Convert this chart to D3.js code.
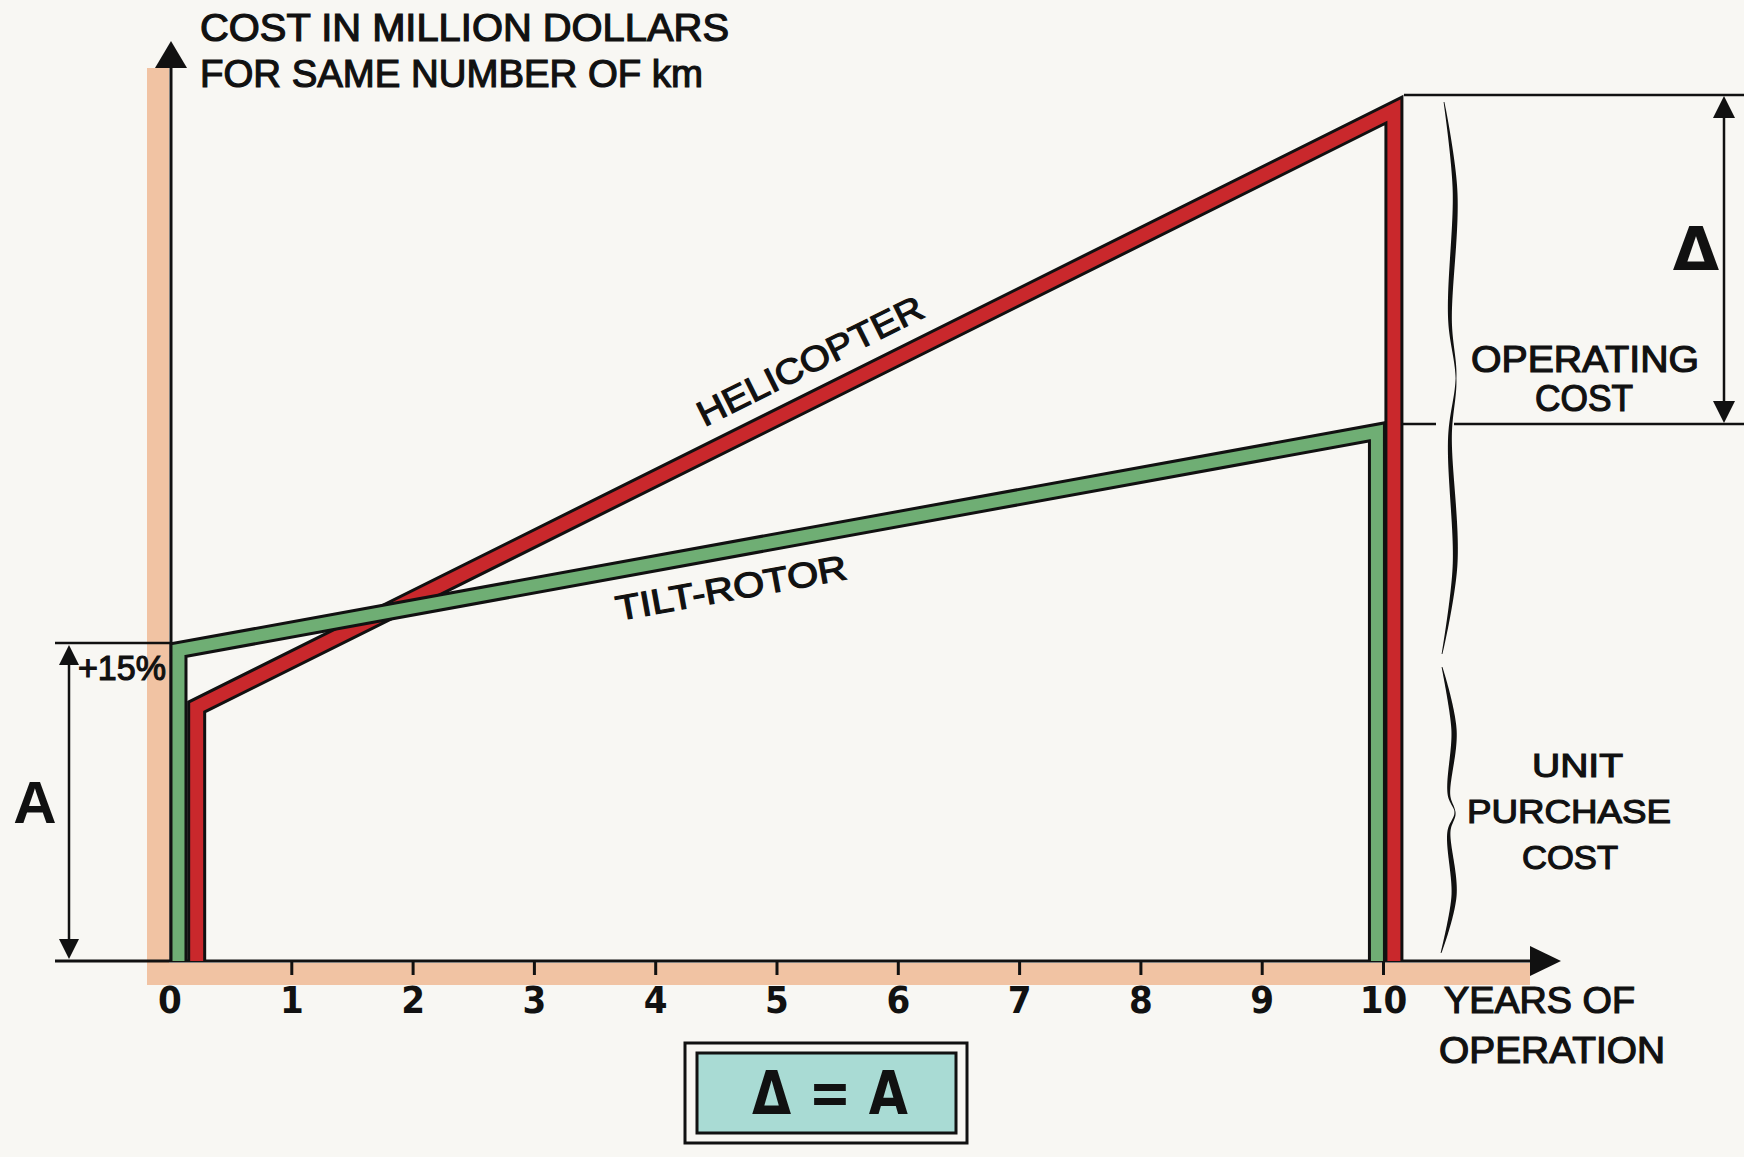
<!DOCTYPE html>
<html><head><meta charset="utf-8">
<script src="https://cdn.jsdelivr.net/npm/d3@7"></script>
<style>html,body{margin:0;padding:0;background:#f8f7f3;} svg{display:block}</style>
</head><body>
<svg id="chart" width="1744" height="1157"></svg>
<script>
// ---------- data ----------
const years = [0,1,2,3,4,5,6,7,8,9,10];
const tickLabels = ["0","1","2","3","4","5","6","7","8","9","10"];
// cost relative to helicopter unit purchase cost (= 1)
const heliYears = [0.22, 0.22, 10.09, 10.09];
const heliCost  = [0, 1.0, 3.35, 0];
const tiltYears = [0.07, 0.07, 9.95, 9.95];
const tiltCost  = [0, 1.224, 2.083, 0];
const yTitle = ["COST IN MILLION DOLLARS", "FOR SAME NUMBER OF km"];
const xTitle = ["YEARS OF", "OPERATION"];
const opLabel = ["OPERATING", "COST"];
const upLabel = ["UNIT", "PURCHASE", "COST"];
const seriesNames = ["HELICOPTER", "TILT-ROTOR"];

// ---------- setup ----------
const svg = d3.select("#chart");
const W = 1744, H = 1157;
svg.append("rect").attr("width", W).attr("height", H).attr("fill", "#f8f7f3");
const x = d3.scaleLinear().domain([0, 10]).range([170, 1383]);
const y = d3.scaleLinear().domain([0, 3.62]).range([961, 41.5]);
const FONT = "'Liberation Sans', Arial, Helvetica, sans-serif";
const NARROW = "'Liberation Sans Narrow','DejaVu Sans Condensed'," + FONT;
const SALMON = "#f1c3a3", RED = "#c9282c", GREEN = "#6fae74", TEAL = "#a9dbd4";

function label(xp, yp, str, o = {}) {
  const t = svg.append("text").attr("x", xp).attr("y", yp).text(str)
    .attr("font-family", o.family || FONT)
    .attr("font-size", o.size || 36)
    .attr("font-weight", o.weight || "normal")
    .attr("fill", "#111")
    .attr("text-anchor", o.anchor || "start");
  if (o.stroke !== 0) t.attr("stroke", "#111").attr("stroke-width", o.stroke || 1.2);
  if (o.len) t.attr("textLength", o.len).attr("lengthAdjust", "spacingAndGlyphs");
  if (o.rotate !== undefined) t.attr("transform", `rotate(${o.rotate},${xp},${yp})`);
  return t;
}

// ---------- salmon axis bands ----------
svg.append("rect").attr("x", 147).attr("y", 68).attr("width", 22).attr("height", 917).attr("fill", SALMON);
svg.append("rect").attr("x", 147).attr("y", 963).attr("width", 1383).attr("height", 22).attr("fill", SALMON);

// ---------- axes ----------
const axisG = svg.append("g").attr("transform", `translate(0,${y(0)})`)
  .call(d3.axisBottom(x).tickValues(years.slice(1)).tickSize(14).tickPadding(11)
    .tickFormat(d => tickLabels[years.indexOf(d)]));
axisG.select(".domain").remove();
axisG.selectAll(".tick line").attr("stroke", "#111").attr("stroke-width", 3);
axisG.selectAll(".tick text").attr("font-family", NARROW)
  .attr("font-size", 38).attr("font-weight", "bold").attr("fill", "#111");
// zero label (no tick mark at the origin)
svg.append("text").attr("x", x(0)).attr("y", y(0) + 25).attr("dy", "0.71em").text(tickLabels[0])
  .attr("text-anchor", "middle").attr("font-family", NARROW)
  .attr("font-size", 38).attr("font-weight", "bold").attr("fill", "#111");

// axis lines
svg.append("line").attr("x1", 55).attr("x2", 1532).attr("y1", y(0)).attr("y2", y(0)).attr("stroke", "#111").attr("stroke-width", 3);
svg.append("line").attr("x1", x(0) + 1).attr("x2", x(0) + 1).attr("y1", 64).attr("y2", y(0)).attr("stroke", "#111").attr("stroke-width", 3);
// arrowheads
svg.append("path").attr("d", `M${x(0)+1},41 L${x(0)+17},68 L${x(0)-15},68 Z`).attr("fill", "#111");
svg.append("path").attr("d", `M1561,${y(0)} L1530,${y(0)-15} L1530,${y(0)+15} Z`).attr("fill", "#111");

// axis titles
label(200, 41, yTitle[0], {size: 38, len: 529});
label(200, 87, yTitle[1], {size: 38, len: 503});
label(1444, 1013, xTitle[0], {size: 36, len: 191});
label(1439, 1063, xTitle[1], {size: 36, len: 226});

// ---------- series ----------
const line = d3.line().x(d => x(d[0])).y(d => y(d[1]));
const heli = heliYears.map((v, i) => [v, heliCost[i]]);
const tilt = tiltYears.map((v, i) => [v, tiltCost[i]]);
function band(data, color, wOut, wIn) {
  svg.append("path").attr("d", line(data)).attr("fill", "none").attr("stroke", "#111")
    .attr("stroke-width", wOut).attr("stroke-linejoin", "miter").attr("stroke-miterlimit", 10);
  svg.append("path").attr("d", line(data)).attr("fill", "none").attr("stroke", color)
    .attr("stroke-width", wIn).attr("stroke-linejoin", "miter").attr("stroke-miterlimit", 10);
}
band(heli, RED, 19, 13);
band(tilt, GREEN, 18, 12);

// series labels along diagonals
function alongLabel(data, t, off, str, o) {
  const p1 = [x(data[1][0]), y(data[1][1])], p2 = [x(data[2][0]), y(data[2][1])];
  const a = Math.atan2(p2[1] - p1[1], p2[0] - p1[0]);
  const px = x(t), py = p1[1] + (px - p1[0]) * Math.tan(a);
  const tx = px + Math.sin(a) * off, ty = py - Math.cos(a) * off;
  label(tx, ty, str, Object.assign({anchor: "middle", rotate: a * 180 / Math.PI}, o));
}
alongLabel(heli, 5.41, 24, seriesNames[0], {size: 35, len: 248});
alongLabel(tilt, 4.57, -50, seriesNames[1], {size: 35, len: 234});

// ---------- dimension annotations ----------
const blk = "#111";
function hline(x1, x2, yy) { svg.append("line").attr("x1", x1).attr("x2", x2).attr("y1", yy).attr("y2", yy).attr("stroke", blk).attr("stroke-width", 2.5); }
function dimArrow(xx, y1, y2, hw, hh) {
  svg.append("line").attr("x1", xx).attr("x2", xx).attr("y1", y1 + hh - 2).attr("y2", y2 - hh + 2).attr("stroke", blk).attr("stroke-width", 2.5);
  svg.append("path").attr("d", `M${xx},${y1} L${xx+hw},${y1+hh} L${xx-hw},${y1+hh} Z`).attr("fill", blk);
  svg.append("path").attr("d", `M${xx},${y2} L${xx+hw},${y2-hh} L${xx-hw},${y2-hh} Z`).attr("fill", blk);
}
// left: A
const yTiltTop = y(tiltCost[1]) - 7;
hline(55, x(0), yTiltTop);
dimArrow(69, yTiltTop + 2, y(0) - 2, 10, 20);
label(35, 823, "A", {size: 60, weight: "bold", anchor: "middle", stroke: 0});
label(78, 680, "+15%", {size: 35, len: 88});

// right: Δ
const yHeliTop = y(heliCost[2]) - 15;
const yTiltEnd = y(tiltCost[2]) - 8;
hline(1404, 1744, yHeliTop);
hline(1401, 1436, yTiltEnd);
hline(1454, 1744, yTiltEnd);
dimArrow(1724, yHeliTop + 1, yTiltEnd - 1, 11, 22);
label(1696, 270, "Δ", {size: 60, weight: "bold", anchor: "middle", stroke: 0, family: "'DejaVu Sans'," + FONT});

// braces
function brace(pts, maxW) {
  const tmp = svg.append("path").attr("d", d3.line().curve(d3.curveCatmullRom)(pts)).attr("fill", "none");
  const node = tmp.node(), L = node.getTotalLength(), N = 200;
  const P = d3.range(N + 1).map(i => node.getPointAtLength(L * i / N));
  tmp.remove();
  const left = [], right = [];
  P.forEach((p, i) => {
    const q0 = P[Math.max(0, i - 1)], q1 = P[Math.min(N, i + 1)];
    const dx = q1.x - q0.x, dy = q1.y - q0.y, l = Math.hypot(dx, dy) || 1;
    const nx = -dy / l, ny = dx / l;
    const u = i / N;
    const w = 0.8 + maxW * Math.pow(Math.abs(Math.sin(2 * Math.PI * u)), 0.9);
    left.push([p.x + nx * w / 2, p.y + ny * w / 2]);
    right.push([p.x - nx * w / 2, p.y - ny * w / 2]);
  });
  const poly = left.concat(right.reverse());
  svg.append("path").attr("d", "M" + poly.map(p => p.join(",")).join("L") + "Z").attr("fill", blk);
}
brace([[1444,102],[1455,190],[1450,320],[1456,378],[1450,436],[1455,566],[1442,654]], 4.5);
brace([[1442,667],[1454,730],[1449,795],[1455,813],[1449,831],[1454,896],[1441,953]], 4.5);

label(1471, 372, opLabel[0], {size: 37, len: 228});
label(1535, 411, opLabel[1], {size: 37, len: 98});
label(1532, 777, upLabel[0], {size: 34, len: 91});
label(1467, 823, upLabel[1], {size: 34, len: 204});
label(1522, 869, upLabel[2], {size: 34, len: 96});

// ---------- Δ = A box ----------
svg.append("rect").attr("x", 685).attr("y", 1043).attr("width", 282).attr("height", 100)
  .attr("fill", "#f8f7f3").attr("stroke", blk).attr("stroke-width", 3);
svg.append("rect").attr("x", 697).attr("y", 1053).attr("width", 259).attr("height", 80)
  .attr("fill", TEAL).attr("stroke", blk).attr("stroke-width", 3);
label(830, 1114, "Δ = A", {size: 60, weight: "bold", anchor: "middle", stroke: 0, len: 156, family: "'DejaVu Sans'," + FONT});
</script>
</body></html>
